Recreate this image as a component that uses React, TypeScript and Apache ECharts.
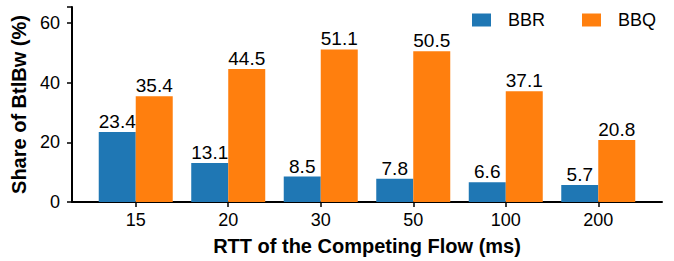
import React, { useEffect, useRef } from "react";
import * as echarts from "echarts";

const categories = ["15", "20", "30", "50", "100", "200"];
const bbr = [23.4, 13.1, 8.5, 7.8, 6.6, 5.7];
const bbq = [35.4, 44.5, 51.1, 50.5, 37.1, 20.8];
const yTicks = [0, 20, 40, 60];

const FONT = "Liberation Sans, Arial, Helvetica, sans-serif";

export default function App() {
  const ref = useRef<HTMLDivElement>(null);
  useEffect(() => {
    const chart = echarts.init(ref.current!, null, { renderer: "svg" });
    const labelStyle = { show: true, position: "top", distance: 1, fontSize: 19, color: "#000", fontFamily: FONT };
    const idx = categories.map((_, i) => i);
    chart.setOption({
      animation: false,
      textStyle: { fontFamily: FONT },
      legend: {
        top: 6,
        right: 13,
        itemWidth: 19,
        itemHeight: 13,
        itemGap: 37,
        icon: "rect",
        textStyle: { fontSize: 18, color: "#000", fontFamily: FONT, padding: [0, 0, 0, 12] },
        data: ["BBR", "BBQ"],
      },
      grid: { left: 72, right: 12, top: 7, bottom: 59, containLabel: false, outerBoundsMode: "none" },
      xAxis: {
        type: "value",
        min: -0.689,
        max: 5.689,
        splitLine: { show: false },
        axisLine: { show: true, onZero: false, lineStyle: { color: "#000", width: 2 } },
        axisTick: { show: true, customValues: idx, length: 5, lineStyle: { color: "#000", width: 1.5 } },
        axisLabel: {
          customValues: idx,
          fontSize: 18,
          color: "#000",
          margin: 9,
          fontFamily: FONT,
          formatter: (v: number) => categories[Math.round(v)] ?? "",
        },
        name: "RTT of the Competing Flow (ms)",
        nameLocation: "middle",
        nameGap: 34,
        nameTextStyle: { fontSize: 20, fontWeight: "bold", color: "#000", fontFamily: FONT },
      },
      yAxis: {
        type: "value",
        min: 0,
        max: 65.3,
        interval: 20,
        axisLine: { show: true, onZero: false, lineStyle: { color: "#000", width: 2 } },
        axisTick: { show: true, length: 5, lineStyle: { color: "#000", width: 1.5 } },
        splitLine: { show: false },
        axisLabel: {
          fontSize: 18,
          color: "#000",
          margin: 12,
          fontFamily: FONT,
          formatter: (v: number) => (yTicks.includes(v) ? String(v) : ""),
        },
        name: "Share of BtlBw (%)",
        nameLocation: "middle",
        nameGap: 34,
        nameTextStyle: { fontSize: 20, fontWeight: "bold", color: "#000", fontFamily: FONT },
      },
      series: [
        {
          name: "BBR",
          type: "bar",
          data: bbr.map((v, i) => [i, v]),
          barWidth: 37,
          barGap: "0%",
          itemStyle: { color: "#1f77b4" },
          label: labelStyle,
        },
        {
          name: "BBQ",
          type: "bar",
          data: bbq.map((v, i) => [i, v]),
          barWidth: 37,
          barGap: "0%",
          itemStyle: { color: "#ff7f0e" },
          label: labelStyle,
        },
      ],
    });
    return () => chart.dispose();
  }, []);
  return <div ref={ref} style={{ position: "absolute", left: 0, top: 0, width: 674, height: 261 }} />;
}
